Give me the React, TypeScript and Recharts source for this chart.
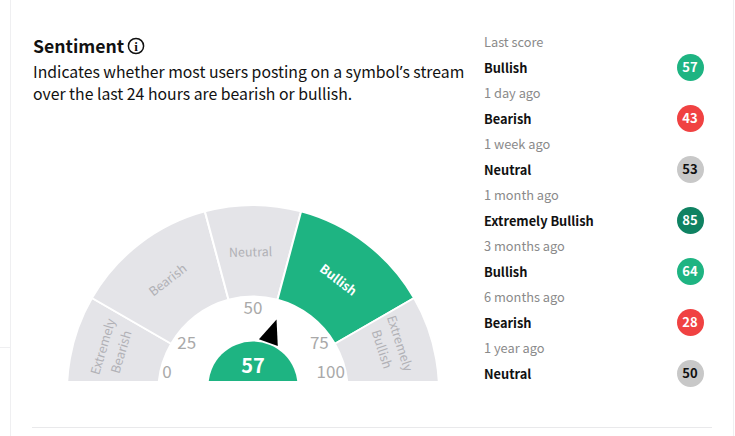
import React from 'react';
import { PieChart, Pie, Cell } from 'recharts';

const FONT = '"Noto Sans CJK SC", "Noto Sans", sans-serif';
const GREEN = '#1eb482';
const ZONE_GREY = '#e4e4e8';

// arc span of each zone in degrees, the outer two run on below the chart's bottom edge
const zoneNames = ['Extremely Bearish', 'Bearish', 'Neutral', 'Bullish', 'Extremely Bullish'];
const zoneSpans = [40, 45, 30, 45, 40];
const zoneColors = [ZONE_GREY, ZONE_GREY, ZONE_GREY, GREEN, ZONE_GREY];
const zoneLabelColors = ['#b1b1b6', '#b1b1b6', '#b1b1b6', '#ffffff', '#b1b1b6'];
const zoneLabelAngles = [163.5, 127.5, 91, 52.5, 18];
const zoneLabelRadii = [147, 140, 139, 140, 145];

const tickLabels = ['0', '25', '50', '75', '100'];
const tickAngles = [167.5, 144, 90, 36, 13.7];
const tickRadii = [88, 82, 83, 82, 80];

const score = 57;
const needleAngle = 70.5;

const historyPeriods = ['Last score', '1 day ago', '1 week ago', '1 month ago', '3 months ago', '6 months ago', '1 year ago'];
const historyLabels = ['Bullish', 'Bearish', 'Neutral', 'Extremely Bullish', 'Bullish', 'Bearish', 'Neutral'];
const historyScores = [57, 43, 53, 85, 64, 28, 50];
const historyColors = ['#1eb482', '#f04242', '#c8c8c8', '#0f8262', '#1eb482', '#f04242', '#c8c8c8'];
const historyText = ['#fff', '#fff', '#111', '#fff', '#fff', '#fff', '#111'];

const CX = 253;
const CY = 391;
const RAD = Math.PI / 180;

const zoneData = zoneNames.map((name, i) => ({ name, value: zoneSpans[i] }));

function ZoneLabel({ index }: any) {
  const a = zoneLabelAngles[index] * RAD;
  const x = CX + zoneLabelRadii[index] * Math.cos(a);
  const y = CY - zoneLabelRadii[index] * Math.sin(a);
  const rotate = 90 - zoneLabelAngles[index];
  const words = zoneNames[index].split(' ');
  const bold = index === 3;
  return (
    <text
      transform={`translate(${x} ${y}) rotate(${rotate})`}
      textAnchor="middle"
      fontFamily={FONT}
      fontSize={12.5}
      fontWeight={bold ? 700 : 400}
      fill={zoneLabelColors[index]}
    >
      {words.map((w, i) => (
        <tspan key={i} x={0} y={(i - (words.length - 1) / 2) * 19 + 4.5}>
          {w}
        </tspan>
      ))}
    </text>
  );
}

function ScoreLabel({ cx, cy, value }: any) {
  const a = needleAngle * RAD;
  const ux = Math.cos(a);
  const uy = -Math.sin(a);
  const point = (r: number, side: number) =>
    `${cx + r * ux - side * uy},${cy + r * uy + side * ux}`;
  return (
    <g>
      <polygon points={`${point(70.5, 0)} ${point(46, 10)} ${point(46, -10)}`} fill="#000" />
      <text
        x={cx}
        y={cy - 13}
        textAnchor="middle"
        fontFamily={FONT}
        fontSize={20}
        fontWeight={700}
        fill="#fff"
      >
        {value}
      </text>
    </g>
  );
}

export default function App() {
  return (
    <div
      style={{
        position: 'absolute',
        left: 0,
        top: 0,
        width: 735,
        height: 436,
        overflow: 'hidden',
        background: '#fff',
        fontFamily: FONT,
        color: '#111',
      }}
    >
      <div style={{ position: 'absolute', left: 10, top: 0, width: 1, height: 436, background: '#efeff1' }} />
      <div style={{ position: 'absolute', left: 733, top: 0, width: 1, height: 436, background: '#efeff1' }} />
      <div style={{ position: 'absolute', left: 0, top: 347, width: 10, height: 1, background: '#efeff1' }} />
      <div style={{ position: 'absolute', left: 32, top: 427, width: 680, height: 1, background: '#e9e9eb' }} />

      <div style={{ position: 'absolute', left: 33, top: 33, fontSize: 17.6, fontWeight: 700, lineHeight: '26px' }}>
        Sentiment
      </div>
      <svg style={{ position: 'absolute', left: 127, top: 37 }} width={18} height={18}>
        <circle cx={9} cy={9} r={7.6} fill="none" stroke="#111" strokeWidth={1.5} />
        <text x={9} y={13.5} textAnchor="middle" fontFamily="Liberation Serif" fontSize={13} fontWeight={700} fill="#111">
          i
        </text>
      </svg>
      <div style={{ position: 'absolute', left: 33, top: 61, width: 445, fontSize: 15.8, lineHeight: '22px', whiteSpace: 'nowrap' }}>
        Indicates whether most users posting on a symbol
        <span style={{ fontFamily: '"Noto Sans"' }}>’</span>s stream
        <br />
        over the last 24 hours are bearish or bullish.
      </div>

      <div style={{ position: 'absolute', left: 0, top: 0 }}>
        <PieChart width={735} height={381} margin={{ top: 0, right: 0, bottom: 0, left: 0 }}>
          <Pie
            data={zoneData}
            dataKey="value"
            cx={CX}
            cy={CY}
            startAngle={190}
            endAngle={-10}
            innerRadius={94.5}
            outerRadius={186}
            stroke="#fff"
            strokeWidth={2}
            label={ZoneLabel}
            labelLine={false}
            isAnimationActive={false}
          >
            {zoneColors.map((c, i) => (
              <Cell key={i} fill={c} />
            ))}
          </Pie>
          <Pie
            data={[{ name: 'score', value: score }]}
            dataKey="value"
            cx={CX}
            cy={386}
            startAngle={180}
            endAngle={0}
            innerRadius={0}
            outerRadius={44.5}
            fill={GREEN}
            stroke="none"
            label={ScoreLabel}
            labelLine={false}
            isAnimationActive={false}
          />
        </PieChart>
      </div>

      {/* ticks sit in their own layer so the chart's bottom edge does not cut them */}
      <svg style={{ position: 'absolute', left: 0, top: 0 }} width={735} height={436}>
        {tickLabels.map((t, i) => (
          <text
            key={t}
            x={CX + tickRadii[i] * Math.cos(tickAngles[i] * RAD)}
            y={CY - tickRadii[i] * Math.sin(tickAngles[i] * RAD) + 6}
            textAnchor="middle"
            fontFamily={FONT}
            fontSize={17}
            fill="#a9a9a9"
          >
            {t}
          </text>
        ))}
      </svg>

      {historyPeriods.map((p, i) => (
        <React.Fragment key={p}>
          <div
            style={{
              position: 'absolute',
              left: 484,
              top: 32 + i * 51.05,
              fontSize: 12.8,
              lineHeight: '20px',
              color: '#8a8a8a',
              whiteSpace: 'nowrap',
            }}
          >
            {p}
          </div>
          <div
            style={{
              position: 'absolute',
              left: 484,
              top: 57.5 + i * 51.05,
              fontSize: 12.8,
              lineHeight: '20px',
              fontWeight: 700,
              whiteSpace: 'nowrap',
            }}
          >
            {historyLabels[i]}
          </div>
          <div
            style={{
              position: 'absolute',
              left: 676.5,
              top: 54 + i * 51.05,
              width: 27,
              height: 27,
              borderRadius: '50%',
              background: historyColors[i],
              color: historyText[i],
              fontSize: 13,
              fontWeight: 700,
              lineHeight: '26px',
              textAlign: 'center',
            }}
          >
            {historyScores[i]}
          </div>
        </React.Fragment>
      ))}
    </div>
  );
}
